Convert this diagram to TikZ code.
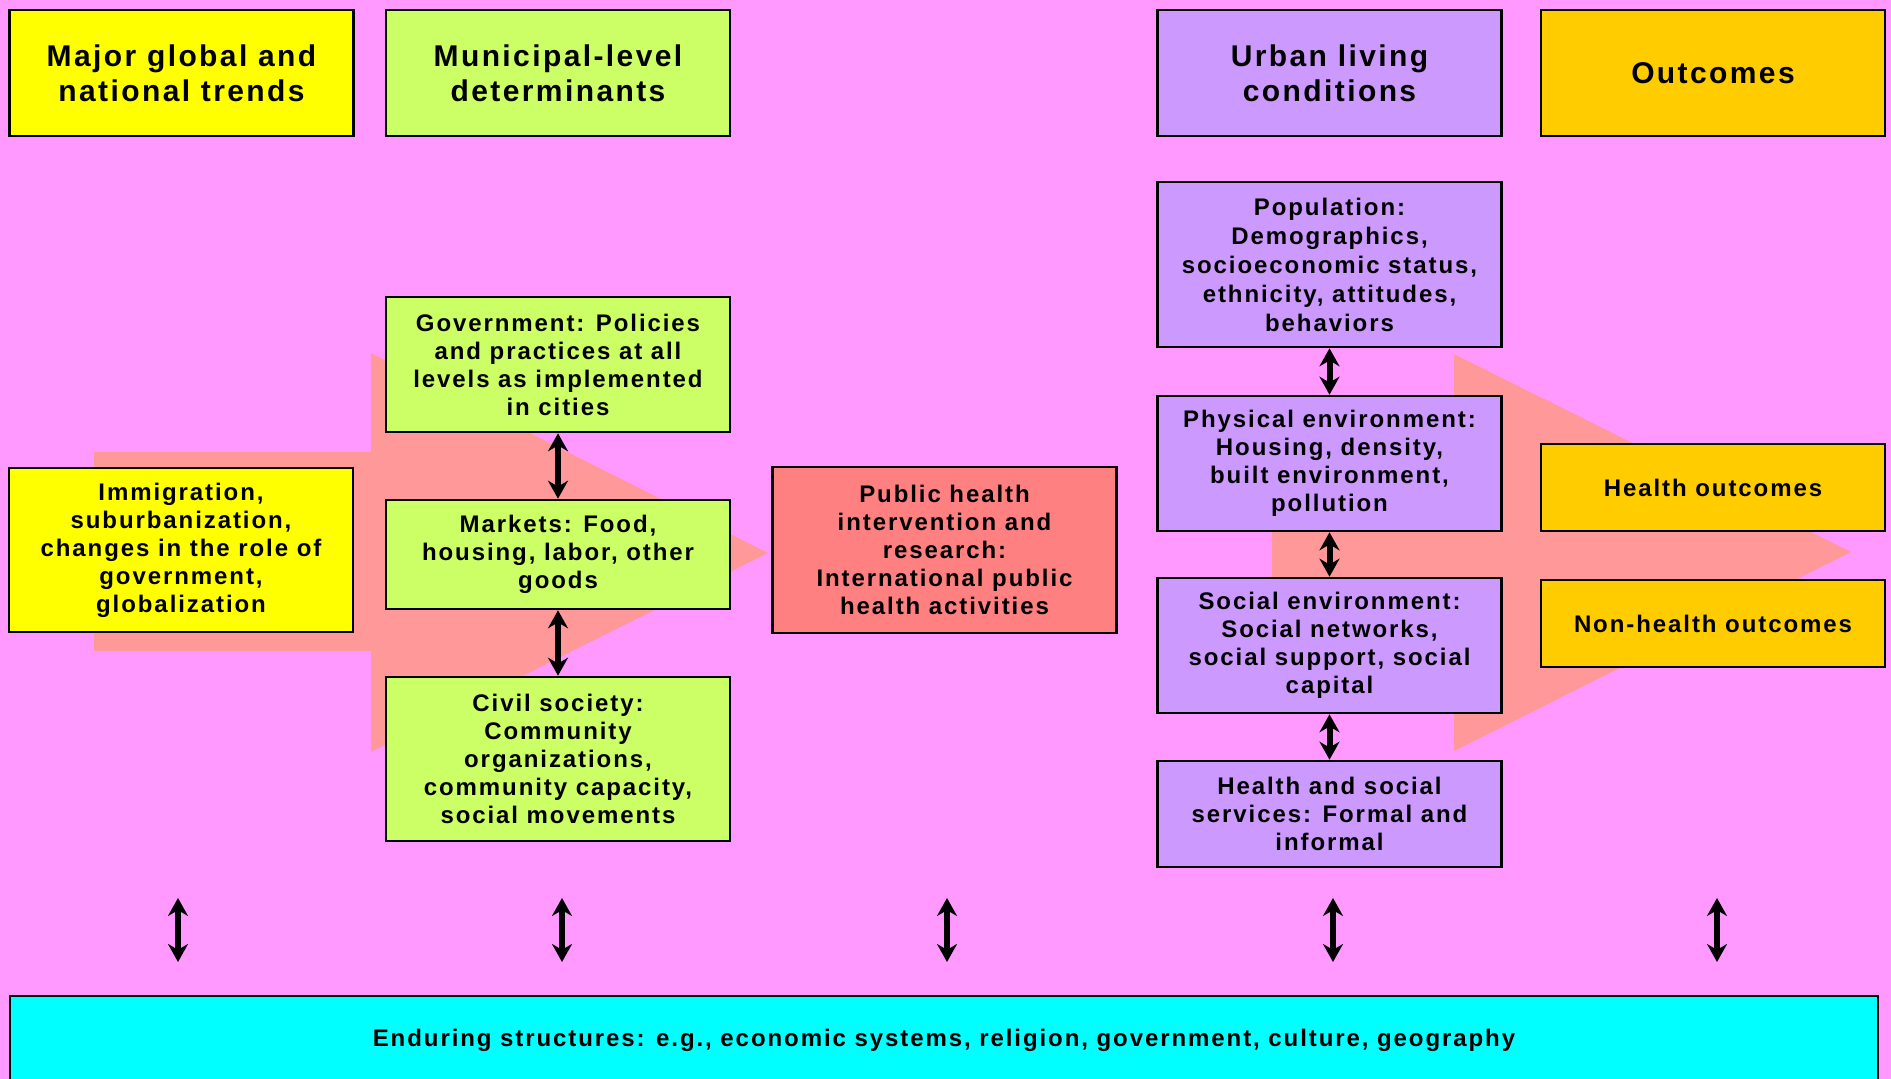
\documentclass[tikz,border=0pt]{standalone}
\usepackage{fontspec}
\setmainfont{Liberation Sans}
\newfontfamily\boxfont[LetterSpace=8]{Liberation Sans}
\usepackage{tikz}
\usetikzlibrary{arrows.meta}
\definecolor{bgpink}{RGB}{255,153,255}
\definecolor{trendyellow}{RGB}{255,255,0}
\definecolor{munigreen}{RGB}{204,255,102}
\definecolor{urbanlilac}{RGB}{204,153,255}
\definecolor{outorange}{RGB}{255,204,0}
\definecolor{phred}{RGB}{255,128,128}
\definecolor{flowsalmon}{RGB}{255,153,153}
\definecolor{basecyan}{RGB}{0,255,255}
\tikzstyle{headbox} = [rectangle, minimum width=172pt, minimum height=63pt, align=center, draw=black, line width=1.3pt, font=\boxfont\bfseries\fontsize{15}{17.5}\selectfont]
\tikzstyle{infobox} = [rectangle, minimum width=172pt, inner sep=2pt, align=center, draw=black, line width=1.3pt, font=\boxfont\bfseries\fontsize{12}{14}\selectfont]
\tikzstyle{arrow} = [line width=3pt,<->,>={Stealth[length=9pt,width=10pt]}]

\begin{document}
\begin{tikzpicture}[x=0.5pt,y=-0.5pt]
	\useasboundingbox (0,0) rectangle (1891,1079);
	\fill[bgpink] (0,0) rectangle (1891,1079);
	% big flow arrows behind the boxes
	\fill[flowsalmon] (94,452) -- (371,452) -- (371,353) -- (768,553) -- (371,752) -- (371,651) -- (94,651) -- cycle;
	\fill[flowsalmon] (1272,452) -- (1454,452) -- (1454,354) -- (1851,552) -- (1454,751) -- (1454,652) -- (1272,652) -- cycle;
	
	\node (hd1) [headbox, fill=trendyellow] at (181.5,73) {Major global and\\national trends};
	\node (hd2) [headbox, fill=munigreen] at (558,73) {Municipal-level\\determinants};
	\node (hd3) [headbox, fill=urbanlilac] at (1329.5,73) {Urban living\\conditions};
	\node (hd4) [headbox, fill=outorange] at (1713,73) {Outcomes};
	
	\node (trend) [infobox, fill=trendyellow, minimum height=82pt] at (181,550) {Immigration,\\suburbanization,\\changes in the role of\\government,\\globalization};
	
	\node (gov) [infobox, fill=munigreen, minimum height=67.5pt] at (558,364.5) {Government: Policies\\and practices at all\\levels as implemented\\in cities};
	\node (mkt) [infobox, fill=munigreen, minimum height=54.5pt] at (558,554.5) {Markets: Food,\\housing, labor, other\\goods};
	\node (civ) [infobox, fill=munigreen, minimum height=82pt] at (558,759) {Civil society:\\Community\\organizations,\\community capacity,\\social movements};
	
	\node (ph) [infobox, fill=phred, minimum height=83pt] at (944.5,550) {Public health\\intervention and\\research:\\International public\\health activities};
	
	\node (pop) [infobox, fill=urbanlilac, minimum height=82.5pt, font=\boxfont\bfseries\fontsize{12}{14.5}\selectfont] at (1329.5,264.5) {Population:\\Demographics,\\socioeconomic status,\\ethnicity, attitudes,\\behaviors};
	\node (phys) [infobox, fill=urbanlilac, minimum height=67.5pt] at (1329.5,463.5) {Physical environment:\\Housing, density,\\built environment,\\pollution};
	\node (soc) [infobox, fill=urbanlilac, minimum height=67.5pt] at (1329.5,645.5) {Social environment:\\Social networks,\\social support, social\\capital};
	\node (serv) [infobox, fill=urbanlilac, minimum height=53pt] at (1329.5,814) {Health and social\\services: Formal and\\informal};
	
	\node (hout) [infobox, fill=outorange, minimum height=43.5pt] at (1713,487.5) {Health outcomes};
	\node (nhout) [infobox, fill=outorange, minimum height=43.5pt] at (1713,623.5) {Non-health outcomes};
	
	\node (base) [infobox, fill=basecyan, minimum width=934pt, minimum height=44pt] at (944,1040) {Enduring structures: e.g., economic systems, religion, government, culture, geography};
	
	\coordinate (u1) at (178,898); \coordinate (d1) at (178,962);
	\coordinate (u2) at (562,898); \coordinate (d2) at (562,962);
	\coordinate (u3) at (947,898); \coordinate (d3) at (947,962);
	\coordinate (u4) at (1333,898); \coordinate (d4) at (1333,962);
	\coordinate (u5) at (1717,898); \coordinate (d5) at (1717,962);
	
	\draw [arrow] (gov) -- (mkt);
	\draw [arrow] (mkt) -- (civ);
	\draw [arrow] (pop) -- (phys);
	\draw [arrow] (phys) -- (soc);
	\draw [arrow] (soc) -- (serv);
	\draw [arrow] (u1) -- (d1);
	\draw [arrow] (u2) -- (d2);
	\draw [arrow] (u3) -- (d3);
	\draw [arrow] (u4) -- (d4);
	\draw [arrow] (u5) -- (d5);
\end{tikzpicture}
\end{document}
